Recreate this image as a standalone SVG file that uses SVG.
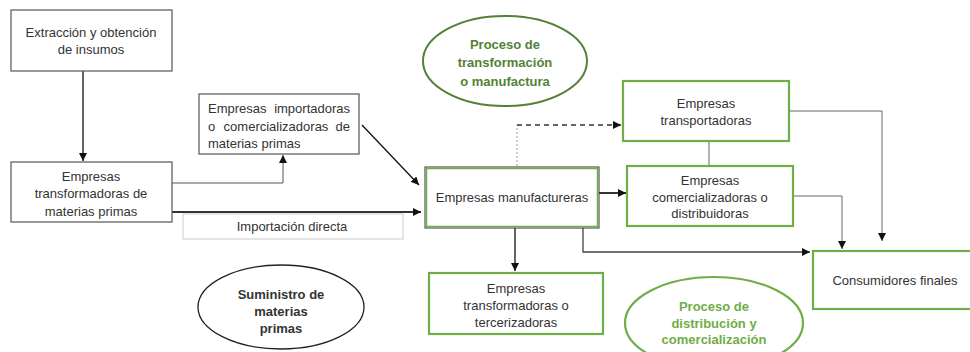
<svg xmlns="http://www.w3.org/2000/svg" width="970" height="352" viewBox="0 0 970 352">
<defs>
<style>
text{font-family:"Liberation Sans",Arial,sans-serif;font-size:13px;fill:#333;text-anchor:middle}
.b{font-weight:bold}
.dg{fill:#538135}
.lg{fill:#70ad47}
.st{text-anchor:start}
.en{text-anchor:end}
.bk{fill:#fff;stroke:#555;stroke-width:1.2}
.gr{fill:#fff;stroke:#70ad47;stroke-width:2.2}
.ln{fill:none;stroke:#111;stroke-width:1.3}
.thin{fill:none;stroke:#666;stroke-width:1}
</style>
<marker id="ar" viewBox="0 0 10 10" refX="10" refY="5" markerWidth="8" markerHeight="8" markerUnits="userSpaceOnUse" orient="auto">
<path d="M0,0 L10,5 L0,10 z" fill="#111"/>
</marker>
</defs>
<rect width="970" height="352" fill="#fff"/>

<g id="connectors">
<path class="ln" d="M83,71 V161" marker-end="url(#ar)"/>
<path class="thin" d="M172,183 H283 V155" marker-end="url(#ar)" style="stroke:#555"/>
<path class="ln" d="M172,212 H421" marker-end="url(#ar)" style="stroke:#333;stroke-width:2"/>
<path class="ln" d="M362,125 L419,185" marker-end="url(#ar)"/>
<path d="M517,166 V125" fill="none" stroke="#999" stroke-width="1" stroke-dasharray="2,2"/>
<path d="M517,125 H621" fill="none" stroke="#333" stroke-width="1.3" stroke-dasharray="5,4" marker-end="url(#ar)"/>
<path class="ln" d="M599,193 H626" marker-end="url(#ar)" style="stroke:#333;stroke-width:2"/>
<path class="thin" d="M709,141 V166"/>
<path class="thin" d="M789,111 H882 V241" marker-end="url(#ar)"/>
<path class="thin" d="M793,196 H842 V249" marker-end="url(#ar)"/>
<path class="thin" d="M583,228 V252 H810" marker-end="url(#ar)" style="stroke:#444;stroke-width:1.3"/>
<path class="ln" d="M515,228 V271" marker-end="url(#ar)"/>
</g>

<g id="extraccion">
<rect class="bk" x="11" y="10" width="161" height="61"/>
<text x="91" y="37">Extracción y obtención</text>
<text x="91" y="54">de insumos</text>
</g>

<g id="transformadoras-mp">
<rect class="bk" x="11" y="162" width="161" height="60"/>
<text x="91" y="181">Empresas</text>
<text x="91" y="198">transformadoras de</text>
<text x="91" y="215.5">materias primas</text>
</g>

<g id="importadoras">
<rect class="bk" x="199" y="94" width="160" height="60"/>
<text class="st" x="208" y="113">Empresas</text>
<text class="en" x="350" y="113">importadoras</text>
<text class="st" x="208" y="130.5">o</text>
<text x="276" y="130.5">comercializadoras</text>
<text class="en" x="350" y="130.5">de</text>
<text class="st" x="208" y="148">materias primas</text>
</g>

<g id="importacion-directa">
<rect x="183" y="214" width="220" height="25" fill="#fff" stroke="#ccc" stroke-width="1"/>
<text x="292" y="231">Importación directa</text>
</g>

<g id="proceso-transformacion">
<ellipse cx="505" cy="61" rx="82" ry="45" fill="#fff" stroke="#538135" stroke-width="2"/>
<text class="b dg" x="505" y="48.5">Proceso de</text>
<text class="b dg" x="505" y="67">transformación</text>
<text class="b dg" x="505" y="85.5">o manufactura</text>
</g>

<g id="manufactureras">
<rect x="425" y="167" width="174" height="61" fill="#fff" stroke="#333" stroke-width="1"/>
<rect x="426.5" y="168.5" width="171" height="58" fill="none" stroke="#70ad47" stroke-width="1.5"/>
<text x="512" y="202">Empresas manufactureras</text>
</g>

<g id="transportadoras">
<rect class="gr" x="623" y="81" width="166" height="60"/>
<text x="706" y="107.5">Empresas</text>
<text x="706" y="124.5">transportadoras</text>
</g>

<g id="comercializadoras">
<rect class="gr" x="627" y="166" width="166" height="60"/>
<text x="710" y="184.5">Empresas</text>
<text x="710" y="201.5">comercializadoras o</text>
<text x="710" y="218">distribuidoras</text>
</g>

<g id="tercerizadoras">
<rect class="gr" x="429" y="273" width="174" height="61"/>
<text x="516" y="292.5">Empresas</text>
<text x="516" y="309.5">transformadoras o</text>
<text x="516" y="326.5">tercerizadoras</text>
</g>

<g id="consumidores">
<rect class="gr" x="813" y="251" width="165" height="58"/>
<text x="895" y="284.5">Consumidores finales</text>
</g>

<g id="suministro">
<ellipse cx="281" cy="307" rx="83" ry="42" fill="#fff" stroke="#222" stroke-width="1.3"/>
<text class="b" x="281" y="298.5">Suministro de</text>
<text class="b" x="281" y="315.5">materias</text>
<text class="b" x="281" y="332.5">primas</text>
</g>

<g id="proceso-distribucion">
<ellipse cx="714" cy="323" rx="89" ry="46" fill="#fff" stroke="#70ad47" stroke-width="2.2"/>
<text class="b lg" x="714" y="310.5">Proceso de</text>
<text class="b lg" x="714" y="327.5">distribución y</text>
<text class="b lg" x="714" y="344">comercialización</text>
</g>
</svg>
